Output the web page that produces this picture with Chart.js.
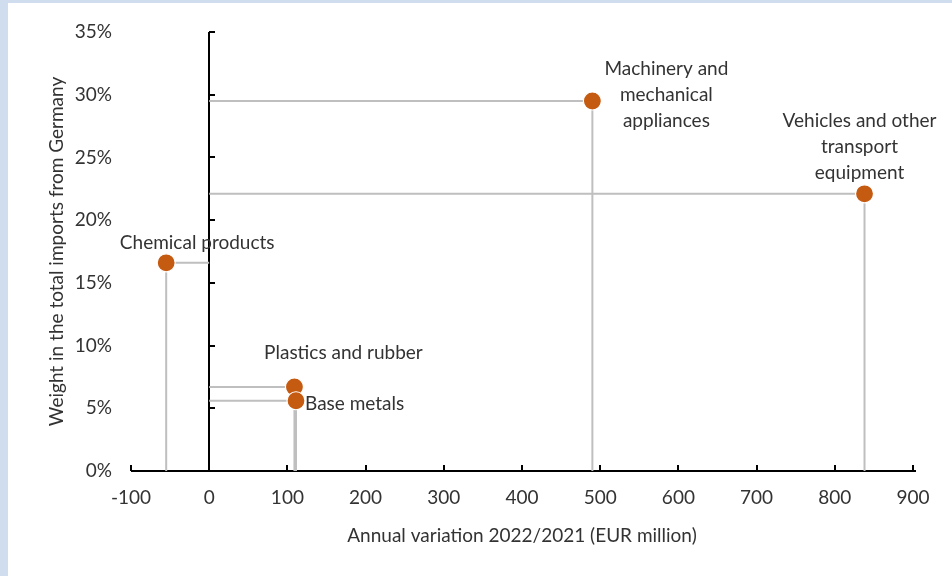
<!DOCTYPE html>
<html>
<head>
<meta charset="utf-8">
<script src="https://cdn.jsdelivr.net/npm/chart.js@4.4.1/dist/chart.umd.min.js"></script>
<style>
  html, body { margin: 0; padding: 0; background: #ffffff; }
  #wrap { width: 952px; height: 576px; position: relative; }
</style>
</head>
<body>
<div id="wrap"><canvas id="c" width="952" height="576"></canvas></div>
<script>
// Product groups imported from Germany
const categories = [
  ['Machinery and', 'mechanical', 'appliances'],
  ['Vehicles and other', 'transport', 'equipment'],
  ['Chemical products'],
  ['Plastics and rubber'],
  ['Base metals']
];
// Annual variation 2022/2021, EUR million
const variation = [490, 838, -55, 109, 111];
// Weight in total imports from Germany, %
const weight = [29.5, 22.1, 16.6, 6.7, 5.6];

const xTicks = [-100, 0, 100, 200, 300, 400, 500, 600, 700, 800, 900];
const yTicks = [0, 5, 10, 15, 20, 25, 30, 35];

const FONT = "Lato, 'Open Sans', 'Liberation Sans', sans-serif";
const FSIZE = 19;
const TEXT = '#333333';
const ORANGE = '#c55a11';
const LEADER = '#bfbfbf';

// label placement relative to each point (px): dx, dy of first line centre, alignment
const labelPlace = [
  { dx: 74, dy: -32, align: 'center' },
  { dx: -5, dy: -73, align: 'center' },
  { dx: 31, dy: -20, align: 'center' },
  { dx: 49, dy: -34, align: 'center' },
  { dx: 9, dy: 3, align: 'left' }
];

const points = variation.map((x, i) => ({ x, y: weight[i] }));

// leader lines from the value axis to the point and down to the category axis
const leaderSets = points.map(p => ({
  type: 'line',
  data: [{ x: 0, y: p.y }, { x: p.x, y: p.y }, { x: p.x, y: 0 }],
  borderColor: LEADER,
  borderWidth: 2,
  pointRadius: 0,
  pointHoverRadius: 0,
  fill: false,
  tension: 0,
  order: 2
}));

const framePlugin = {
  id: 'frame',
  beforeDraw(chart) {
    const ctx = chart.ctx;
    ctx.save();
    ctx.fillStyle = '#ffffff';
    ctx.fillRect(0, 0, chart.width, chart.height);
    ctx.fillStyle = '#cfddef';
    ctx.fillRect(0, 0, 8, chart.height);
    ctx.fillRect(0, 0, chart.width, 3);
    ctx.restore();
  }
};

const axesPlugin = {
  id: 'crossAxes',
  beforeDatasetsDraw(chart) {
    const { ctx, chartArea: a, scales: { x, y } } = chart;
    ctx.save();
    ctx.strokeStyle = '#000000';
    ctx.lineWidth = 2;
    // value axis crossing at x = 0
    const x0 = Math.round(x.getPixelForValue(0));
    ctx.beginPath();
    ctx.moveTo(x0, a.bottom);
    ctx.lineTo(x0, a.top);
    yTicks.forEach(v => {
      const py = Math.round(y.getPixelForValue(v));
      ctx.moveTo(x0, py);
      ctx.lineTo(x0 + 6, py);
    });
    ctx.stroke();
    // category axis along y = 0
    const y0 = Math.round(y.getPixelForValue(0));
    ctx.beginPath();
    ctx.moveTo(a.left, y0);
    ctx.lineTo(a.right + 3, y0);
    xTicks.forEach(v => {
      const px = Math.round(x.getPixelForValue(v));
      ctx.moveTo(px, y0);
      ctx.lineTo(px, y0 - 6);
    });
    ctx.stroke();
    ctx.restore();
  }
};

const labelPlugin = {
  id: 'pointLabels',
  afterDatasetsDraw(chart) {
    const ctx = chart.ctx;
    const meta = chart.getDatasetMeta(chart.data.datasets.length - 1);
    ctx.save();
    ctx.fillStyle = TEXT;
    ctx.font = FSIZE + 'px ' + FONT;
    ctx.textBaseline = 'middle';
    meta.data.forEach((el, i) => {
      const pl = labelPlace[i];
      ctx.textAlign = pl.align;
      categories[i].forEach((line, j) => {
        ctx.fillText(line, el.x + pl.dx, el.y + pl.dy + j * 26);
      });
    });
    ctx.restore();
  }
};

new Chart(document.getElementById('c'), {
  type: 'scatter',
  data: {
    datasets: [
      ...leaderSets,
      {
        type: 'scatter',
        data: points,
        backgroundColor: ORANGE,
        borderColor: '#ffffff',
        borderWidth: 1.2,
        pointRadius: 9,
        pointHoverRadius: 9,
        order: 1
      }
    ]
  },
  options: {
    responsive: false,
    animation: false,
    events: [],
    layout: { padding: { left: 0, top: 32, right: 39, bottom: 0 } },
    plugins: {
      legend: { display: false },
      tooltip: { enabled: false }
    },
    scales: {
      x: {
        type: 'linear',
        min: -100,
        max: 900,
        afterBuildTicks(scale) { scale.ticks = xTicks.map(v => ({ value: v })); },
        afterFit(scale) { scale.height = 105; },
        grid: { display: false, drawTicks: false },
        border: { display: false },
        ticks: {
          color: TEXT,
          font: { family: FONT, size: FSIZE },
          padding: 15,
          maxRotation: 0,
          autoSkip: false
        },
        title: {
          display: true,
          text: 'Annual variation 2022/2021 (EUR million)',
          color: TEXT,
          font: { family: FONT, size: FSIZE },
          padding: { top: 0, bottom: 29 }
        }
      },
      y: {
        type: 'linear',
        min: 0,
        max: 35,
        afterBuildTicks(scale) { scale.ticks = yTicks.map(v => ({ value: v })); },
        afterFit(scale) { scale.width = 131; },
        grid: { display: false, drawTicks: false },
        border: { display: false },
        ticks: {
          color: TEXT,
          font: { family: FONT, size: FSIZE },
          padding: 19,
          callback: v => v + '%'
        },
        title: {
          display: true,
          text: 'Weight in the total imports from Germany',
          color: TEXT,
          font: { family: FONT, size: FSIZE },
          padding: { top: 45, bottom: 0 }
        }
      }
    }
  },
  plugins: [framePlugin, axesPlugin, labelPlugin]
});
</script>
</body>
</html>
